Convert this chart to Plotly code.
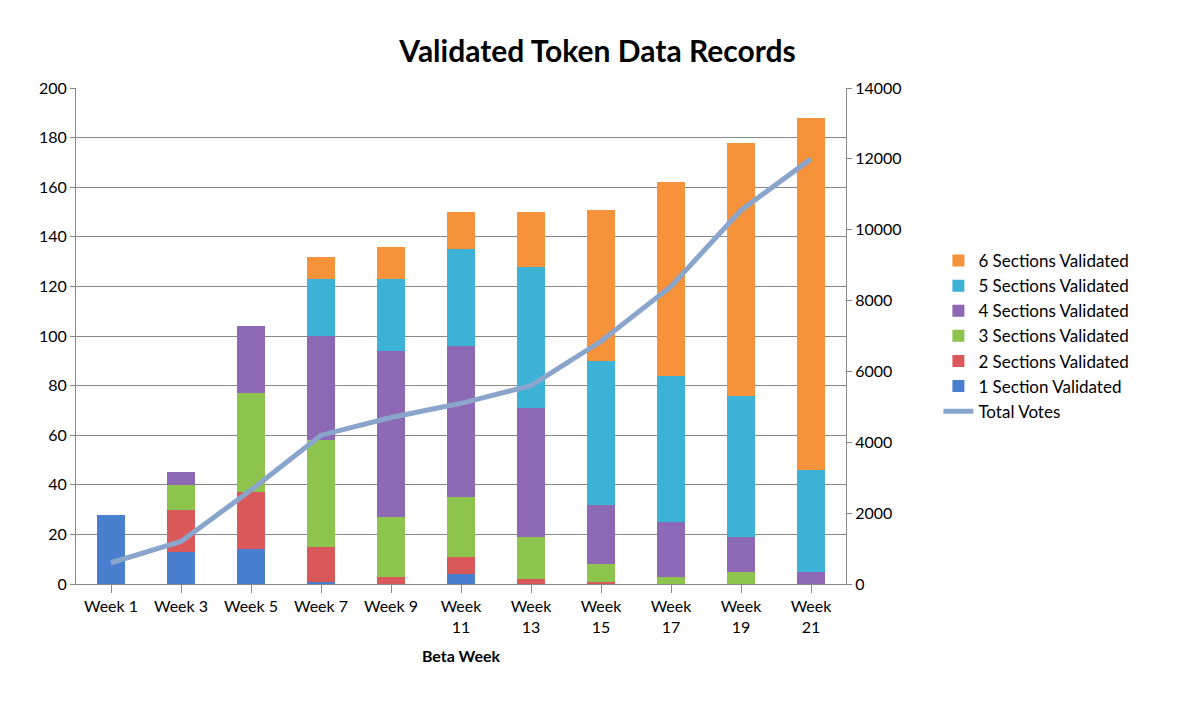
import plotly.graph_objects as go

weeks = ["Week 1", "Week 3", "Week 5", "Week 7", "Week 9", "Week 11", "Week 13", "Week 15", "Week 17", "Week 19", "Week 21"]
week_labels = ["Week 1", "Week 3", "Week 5", "Week 7", "Week 9", "Week<br>11", "Week<br>13", "Week<br>15", "Week<br>17", "Week<br>19", "Week<br>21"]
s1 = [28, 13, 14, 1, 0, 4, 0, 0, 0, 0, 0]
s2 = [0, 17, 23, 14, 3, 7, 2, 1, 0, 0, 0]
s3 = [0, 10, 40, 43, 24, 24, 17, 7, 3, 5, 0]
s4 = [0, 5, 27, 42, 67, 61, 52, 24, 22, 14, 5]
s5 = [0, 0, 0, 23, 29, 39, 57, 58, 59, 57, 41]
s6 = [0, 0, 0, 9, 13, 15, 22, 61, 78, 102, 142]
total_votes = [600, 1200, 2650, 4200, 4700, 5100, 5600, 6850, 8400, 10550, 12000]

series = [
    ("1 Section Validated", s1, "#4a7fd0"),
    ("2 Sections Validated", s2, "#d9585a"),
    ("3 Sections Validated", s3, "#8cc44e"),
    ("4 Sections Validated", s4, "#8d68b4"),
    ("5 Sections Validated", s5, "#3cb3d6"),
    ("6 Sections Validated", s6, "#f5923a"),
]

fig = go.Figure()
for i, (name, vals, col) in enumerate(series):
    fig.add_trace(go.Bar(x=weeks, y=vals, name=name, marker=dict(color=col, line=dict(width=0)),
                         width=0.4, legendrank=6 - i))
fig.add_trace(go.Scatter(x=weeks, y=total_votes, name="Total Votes", mode="lines",
                         line=dict(color="#8aa5cc", width=5), yaxis="y2", legendrank=7))

fig.update_layout(
    barmode="stack",
    width=1179, height=720,
    paper_bgcolor="white", plot_bgcolor="white",
    font=dict(family="Lato, Open Sans, sans-serif", size=16, color="black"),
    title=dict(text="<b>Validated Token Data Records</b>", x=0.5, xanchor="center", y=0.94,
               yanchor="middle", font=dict(size=30)),
    margin=dict(l=68, r=341, t=80, b=144),
    xaxis=dict(title=dict(text="<b>Beta Week</b>", font=dict(size=16)), tickvals=weeks, ticktext=week_labels,
               showline=True, linecolor="#888", ticks="outside", ticklen=8, tickcolor="#888"),
    yaxis=dict(range=[0, 200], dtick=20, showgrid=True, gridcolor="#888", showline=True, linecolor="#888",
               ticks="outside", tickcolor="#888", zeroline=False),
    yaxis2=dict(range=[0, 14000], dtick=2000, overlaying="y", side="right", showgrid=False,
                showline=True, linecolor="#888", ticks="outside", tickcolor="#888", tickformat="d"),
    legend=dict(x=1.12, y=0.5, yanchor="middle", traceorder="normal", font=dict(size=17)),
    bargap=0.6,
)
fig.write_html("out.html")
